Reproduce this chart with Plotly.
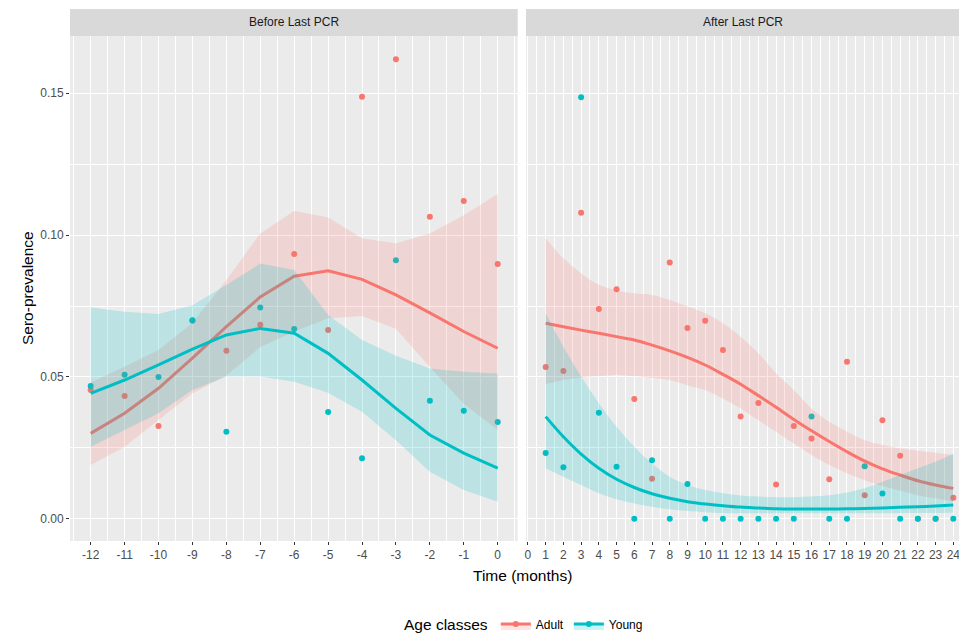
import plotly.graph_objects as go

# ---------------- data ----------------
before_x = list(range(-12, 1))
before_ticktext = ["-12", "-11", "-10", "-9", "-8", "-7", "-6", "-5", "-4", "-3", "-2", "-1", "0"]
before_adult = [0.0454, 0.0433, 0.0327, 0.0698, 0.0592, 0.0684, 0.0933, 0.0665, 0.1488, 0.1620, 0.1065, 0.1120, 0.0898]
before_young = [0.0468, 0.0508, 0.0500, 0.0700, 0.0307, 0.0745, 0.0669, 0.0376, 0.0213, 0.0911, 0.0416, 0.0381, 0.0341]
before_adult_fit = [0.0301, 0.0372, 0.0460, 0.0566, 0.0677, 0.0782, 0.0855, 0.0874, 0.0844, 0.0789, 0.0726, 0.0660, 0.0601]
before_adult_lo = [0.0189, 0.0254, 0.0348, 0.0442, 0.0505, 0.0605, 0.0660, 0.0707, 0.0715, 0.0670, 0.0535, 0.0405, 0.0313]
before_adult_hi = [0.0480, 0.0536, 0.0595, 0.0690, 0.0841, 0.1006, 0.1085, 0.1062, 0.0989, 0.0970, 0.1006, 0.1070, 0.1145]
before_young_fit = [0.0442, 0.0489, 0.0542, 0.0598, 0.0648, 0.0671, 0.0654, 0.0583, 0.0489, 0.0389, 0.0295, 0.0231, 0.0178]
before_young_lo = [0.0254, 0.0313, 0.0372, 0.0454, 0.0501, 0.0501, 0.0483, 0.0444, 0.0377, 0.0277, 0.0166, 0.0101, 0.0060]
before_young_hi = [0.0745, 0.0730, 0.0722, 0.0753, 0.0824, 0.0900, 0.0877, 0.0718, 0.0630, 0.0575, 0.0530, 0.0518, 0.0512]

after_x = list(range(1, 25))
after_ticks = list(range(0, 25))
after_adult = [0.0535, 0.0521, 0.1079, 0.0739, 0.0809, 0.0422, 0.0141, 0.0903, 0.0672, 0.0698, 0.0595, 0.0360,
               0.0408, 0.0121, 0.0327, 0.0283, 0.0139, 0.0553, 0.0083, 0.0347, 0.0222, 0.0, 0.0, 0.0074]
after_young = [0.0232, 0.0181, 0.1486, 0.0374, 0.0183, 0.0, 0.0206, 0.0, 0.0122, 0.0, 0.0, 0.0,
               0.0, 0.0, 0.0, 0.0360, 0.0, 0.0, 0.0185, 0.0089, 0.0, 0.0, 0.0, 0.0]
after_adult_fit = [0.0689, 0.0677, 0.0665, 0.0654, 0.0642, 0.0630, 0.0612, 0.0592, 0.0569, 0.0542, 0.0509, 0.0474,
                   0.0434, 0.0393, 0.0350, 0.0310, 0.0272, 0.0236, 0.0203, 0.0176, 0.0154, 0.0134, 0.0119, 0.0107]
after_adult_lo = [0.0475, 0.0489, 0.0498, 0.0503, 0.0507, 0.0503, 0.0497, 0.0489, 0.0471, 0.0454, 0.0424, 0.0389,
                  0.0347, 0.0307, 0.0265, 0.0225, 0.0189, 0.0160, 0.0136, 0.0115, 0.0099, 0.0083, 0.0072, 0.0060]
after_adult_hi = [0.0989, 0.0918, 0.0865, 0.0825, 0.0805, 0.0795, 0.0789, 0.0771, 0.0748, 0.0724, 0.0689, 0.0642,
                  0.0583, 0.0513, 0.0454, 0.0389, 0.0342, 0.0307, 0.0277, 0.0260, 0.0248, 0.0240, 0.0233, 0.0225]
after_young_fit = [0.0360, 0.0289, 0.0228, 0.0178, 0.0139, 0.0110, 0.0088, 0.0072, 0.0060, 0.0052, 0.0046, 0.0041,
                   0.0038, 0.0035, 0.0034, 0.0034, 0.0034, 0.0035, 0.0036, 0.0038, 0.0040, 0.0042, 0.0045, 0.0048]
after_young_lo = [0.0178, 0.0148, 0.0119, 0.0090, 0.0069, 0.0054, 0.0042, 0.0033, 0.0027, 0.0023, 0.0020, 0.0019,
                  0.0019, 0.0019, 0.0019, 0.0019, 0.0019, 0.0019, 0.0019, 0.0019, 0.0020, 0.0020, 0.0020, 0.0022]
after_young_hi = [0.0724, 0.0606, 0.0501, 0.0407, 0.0324, 0.0254, 0.0195, 0.0148, 0.0119, 0.0101, 0.0090, 0.0082,
                  0.0078, 0.0076, 0.0076, 0.0078, 0.0083, 0.0092, 0.0107, 0.0130, 0.0154, 0.0178, 0.0201, 0.0230]

panel_titles = ["Before Last PCR", "After Last PCR"]
group_names = ["Adult", "Young"]
y_ticks = [0.0, 0.05, 0.10, 0.15]
y_ticktext = ["0.00", "0.05", "0.10", "0.15"]

# ---------------- style ----------------
RED = "#F8766D"
TEAL = "#00BFC4"
RED_FILL = "rgba(248,118,109,0.2)"
TEAL_FILL = "rgba(0,191,196,0.2)"
FONT = "Liberation Sans, Arial, sans-serif"

W, H = 959, 636
ML, MR, MT, MB = 70, 0, 36, 95
PW = W - ML - MR
PH = H - MT - MB
dom1 = [0.0, (517.7 - ML) / PW]
dom2 = [(526 - ML) / PW, 1.0]
strip_h = 27 / PH

fig = go.Figure()

panels = [
    ("x", "y", before_x, before_adult, before_young,
     (before_adult_fit, before_adult_lo, before_adult_hi),
     (before_young_fit, before_young_lo, before_young_hi), "linear"),
    ("x2", "y2", after_x, after_adult, after_young,
     (after_adult_fit, after_adult_lo, after_adult_hi),
     (after_young_fit, after_young_lo, after_young_hi), "spline"),
]

for xa, ya, xs, adult, young, afit, yfit, shape in panels:
    fig.add_trace(go.Scatter(x=xs, y=adult, mode="markers", xaxis=xa, yaxis=ya,
                             marker=dict(color=RED, size=6), showlegend=False, hoverinfo="skip"))
    fig.add_trace(go.Scatter(x=xs, y=young, mode="markers", xaxis=xa, yaxis=ya,
                             marker=dict(color=TEAL, size=6), showlegend=False, hoverinfo="skip"))
    for (fit, lo, hi), col, fcol in ((afit, RED, RED_FILL), (yfit, TEAL, TEAL_FILL)):
        fig.add_trace(go.Scatter(x=xs, y=lo, mode="lines", xaxis=xa, yaxis=ya,
                                 line=dict(width=0, color=fcol, shape=shape),
                                 showlegend=False, hoverinfo="skip"))
        fig.add_trace(go.Scatter(x=xs, y=hi, mode="lines", xaxis=xa, yaxis=ya, fill="tonexty",
                                 fillcolor=fcol, line=dict(width=0, color=fcol, shape=shape),
                                 showlegend=False, hoverinfo="skip"))
        fig.add_trace(go.Scatter(x=xs, y=fit, mode="lines", xaxis=xa, yaxis=ya,
                                 line=dict(width=3, color=col, shape=shape),
                                 showlegend=False, hoverinfo="skip"))

# legend entries
for name, col, fcol in zip(group_names, (RED, TEAL), (RED_FILL, TEAL_FILL)):
    fig.add_trace(go.Scatter(x=[None], y=[None], mode="lines+markers", name=name,
                             fill="toself", fillcolor=fcol,
                             line=dict(color=col, width=3), marker=dict(color=col, size=6)))

def minor(dt):
    return dict(dtick=dt, tick0=0, showgrid=True, gridcolor="white", gridwidth=0.5)

axis_common = dict(
    showgrid=True, gridcolor="white", gridwidth=1.1, zeroline=False,
    ticks="outside", ticklen=3, tickwidth=1, tickcolor="#333333",
    tickfont=dict(family=FONT, size=12, color="#4D4D4D"),
    showline=False, automargin=False, ticklabeloverflow="allow",
)

fig.update_layout(
    width=W, height=H,
    margin=dict(l=ML, r=MR, t=MT, b=MB, autoexpand=False),
    paper_bgcolor="white", plot_bgcolor="#EBEBEB",
    font=dict(family=FONT, color="#1A1A1A"),
    xaxis=dict(domain=dom1, range=[-12.61, 0.59], tickmode="array", tickvals=before_x,
               ticktext=before_ticktext, anchor="y", minor=minor(0.5), **axis_common),
    xaxis2=dict(domain=dom2, range=[-0.11, 24.32], tickmode="array", tickvals=after_ticks,
                ticktext=[str(v) for v in after_ticks], anchor="y2", minor=minor(0.5), **axis_common),
    yaxis=dict(domain=[0, 1], range=[-0.00786, 0.1702], tickmode="array", tickvals=y_ticks,
               ticktext=y_ticktext, anchor="x", minor=minor(0.025), **axis_common),
    yaxis2=dict(domain=[0, 1], range=[-0.00786, 0.1702], tickmode="array", tickvals=y_ticks,
                anchor="x2", showticklabels=False, minor=minor(0.025),
                **{**axis_common, "ticks": ""}),
    legend=dict(orientation="h", x=(402 - ML) / PW, xanchor="left",
                y=-(625 - (MT + PH)) / PH, yanchor="middle", traceorder="normal",
                title=dict(text="Age classes", side="left",
                           font=dict(family=FONT, size=15.5, color="#000000")),
                font=dict(family=FONT, size=12, color="#000000"),
                bgcolor="rgba(0,0,0,0)", itemwidth=30),
    showlegend=True,
)

shapes = []
annotations = []
for dom, title in zip((dom1, dom2), panel_titles):
    shapes.append(dict(type="rect", xref="paper", yref="paper", x0=dom[0], x1=dom[1],
                       y0=1, y1=1 + strip_h, fillcolor="#D9D9D9", line=dict(width=0), layer="below"))
    annotations.append(dict(text=title, xref="paper", yref="paper", x=(dom[0] + dom[1]) / 2,
                            y=1 + strip_h / 2, showarrow=False, xanchor="center", yanchor="middle",
                            font=dict(family=FONT, size=12, color="#1A1A1A")))

annotations.append(dict(text="Time (months)", xref="paper", yref="paper", x=(522 - ML) / PW,
                        y=-(575 - (MT + PH)) / PH, showarrow=False, xanchor="center", yanchor="middle",
                        font=dict(family=FONT, size=15.5, color="#000000")))
annotations.append(dict(text="Sero-prevalence", xref="paper", yref="paper", x=-(ML - 27) / PW,
                        y=(MT + PH - 288) / PH, showarrow=False, textangle=-90,
                        xanchor="center", yanchor="middle",
                        font=dict(family=FONT, size=15.5, color="#000000")))

fig.update_layout(shapes=shapes, annotations=annotations)

fig.write_html("out.html", config={"displayModeBar": False},
               post_script="document.body.style.margin='0';document.body.style.padding='0';"
                           "document.body.style.overflow='hidden';")
